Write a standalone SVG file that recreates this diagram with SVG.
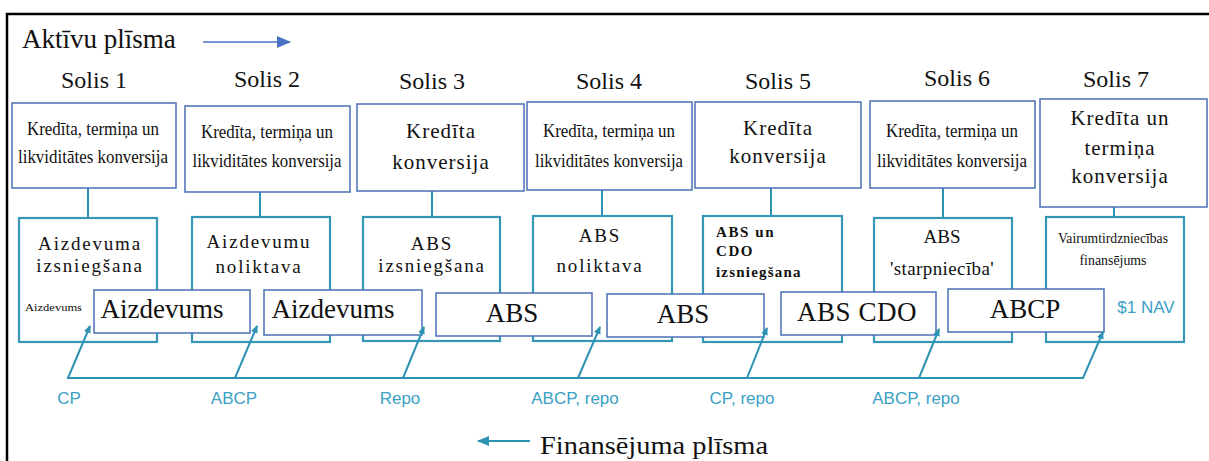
<svg xmlns="http://www.w3.org/2000/svg" width="1209" height="461" viewBox="0 0 1209 461">
<style>
.serif{font-family:"Liberation Serif","Times New Roman",serif;fill:#111;}
.sans{font-family:"Liberation Sans",Arial,sans-serif;fill:#3c9fc4;}
.bbox{fill:#fff;stroke:#4a6fb5;stroke-width:1.5;}
.tbox{fill:#fff;stroke:#3596b5;stroke-width:2.2;}
.teal{stroke:#2e93b3;stroke-width:2;fill:none;}
.step{font-size:24px;text-anchor:middle;}
.cond{font-size:19px;text-anchor:middle;}
.big{font-size:21px;text-anchor:middle;letter-spacing:1px;}
.mid{font-size:19px;text-anchor:middle;letter-spacing:1.8px;}
.inst{font-size:27px;text-anchor:middle;}
.lbl{font-size:17px;text-anchor:middle;}
</style>
<defs>
<marker id="ah" markerWidth="8" markerHeight="8" refX="7" refY="4" orient="auto" markerUnits="userSpaceOnUse"><path d="M0,0.5 L8,4 L0,7.5 z" fill="#2e93b3"/></marker>
<marker id="ahb" markerWidth="14" markerHeight="12" refX="13" refY="6" orient="auto" markerUnits="userSpaceOnUse"><path d="M0,0 L14,6 L0,12 z" fill="#4a72c4"/></marker>
<marker id="aht" markerWidth="12" markerHeight="10" refX="11" refY="5" orient="auto" markerUnits="userSpaceOnUse"><path d="M0,0 L12,5 L0,10 z" fill="#2e93b3"/></marker>
</defs>
<rect width="1209" height="461" fill="#fff"/>
<path d="M7,475 L7,14 L1215,14" fill="none" stroke="#000" stroke-width="2.5"/>

<g id="title">
<text class="serif" x="22" y="48" font-size="27">Aktīvu plīsma</text>
<line x1="203" y1="42" x2="290" y2="42" stroke="#4a72c4" stroke-width="1.5" marker-end="url(#ahb)"/>
</g>

<g id="steps" class="serif">
<text class="serif step" x="94" y="88">Solis 1</text>
<text class="serif step" x="267" y="87">Solis 2</text>
<text class="serif step" x="432" y="89">Solis 3</text>
<text class="serif step" x="609" y="89">Solis 4</text>
<text class="serif step" x="778" y="89">Solis 5</text>
<text class="serif step" x="957" y="86">Solis 6</text>
<text class="serif step" x="1116" y="87">Solis 7</text>
</g>

<g id="connectors">
<line class="teal" x1="88" y1="188" x2="88" y2="218"/>
<line class="teal" x1="260" y1="192" x2="260" y2="217"/>
<line class="teal" x1="432" y1="191" x2="432" y2="217"/>
<line class="teal" x1="602" y1="190" x2="602" y2="216"/>
<line class="teal" x1="771" y1="188" x2="771" y2="216"/>
<line class="teal" x1="943" y1="188" x2="943" y2="218"/>
<line class="teal" x1="1114" y1="207" x2="1114" y2="217"/>
</g>

<g id="top1"><rect class="bbox" x="12" y="103" width="164" height="85"/>
<text class="serif cond" x="93" y="135" textLength="132" lengthAdjust="spacingAndGlyphs">Kredīta, termiņa un</text>
<text class="serif cond" x="93" y="163" textLength="150" lengthAdjust="spacingAndGlyphs">likviditātes konversija</text></g>
<g id="top2"><rect class="bbox" x="185" y="106" width="165" height="86"/>
<text class="serif cond" x="267" y="138" textLength="132" lengthAdjust="spacingAndGlyphs">Kredīta, termiņa un</text>
<text class="serif cond" x="267" y="167" textLength="149" lengthAdjust="spacingAndGlyphs">likviditātes konversija</text></g>
<g id="top3"><rect class="bbox" x="357" y="104" width="167" height="87"/>
<text class="serif big" x="441" y="138">Kredīta</text>
<text class="serif big" x="441" y="169">konversija</text></g>
<g id="top4"><rect class="bbox" x="527" y="102" width="165" height="88"/>
<text class="serif cond" x="609" y="137" textLength="132" lengthAdjust="spacingAndGlyphs">Kredīta, termiņa un</text>
<text class="serif cond" x="609" y="167" textLength="148" lengthAdjust="spacingAndGlyphs">likviditātes konversija</text></g>
<g id="top5"><rect class="bbox" x="695" y="102" width="166" height="86"/>
<text class="serif big" x="778" y="135">Kredīta</text>
<text class="serif big" x="778" y="163">konversija</text></g>
<g id="top6"><rect class="bbox" x="870" y="101" width="165" height="87"/>
<text class="serif cond" x="952" y="137" textLength="132" lengthAdjust="spacingAndGlyphs">Kredīta, termiņa un</text>
<text class="serif cond" x="952" y="167" textLength="150" lengthAdjust="spacingAndGlyphs">likviditātes konversija</text></g>
<g id="top7"><rect class="bbox" x="1040" y="99" width="167" height="108"/>
<text class="serif big" x="1120" y="125">Kredīta un</text>
<text class="serif big" x="1120" y="155">termiņa</text>
<text class="serif big" x="1120" y="183">konversija</text></g>

<g id="bot1"><rect class="tbox" x="19" y="218" width="138" height="124"/>
<text class="serif mid" x="90" y="250">Aizdevuma</text>
<text class="serif mid" x="90" y="272">izsniegšana</text>
<text class="serif" x="25" y="311" font-size="11" textLength="57" lengthAdjust="spacingAndGlyphs">Aizdevums</text></g>
<g id="bot2"><rect class="tbox" x="192" y="217" width="138" height="125"/>
<text class="serif mid" x="259" y="248">Aizdevumu</text>
<text class="serif mid" x="259" y="273">noliktava</text></g>
<g id="bot3"><rect class="tbox" x="363" y="217" width="137" height="124"/>
<text class="serif mid" x="432" y="250">ABS</text>
<text class="serif mid" x="432" y="272">izsniegšana</text></g>
<g id="bot4"><rect class="tbox" x="533" y="216" width="139" height="125"/>
<text class="serif mid" x="600" y="242">ABS</text>
<text class="serif mid" x="600" y="272">noliktava</text></g>
<g id="bot5"><rect class="tbox" x="703" y="216" width="139" height="126"/>
<text class="serif" x="716" y="237" font-size="15" font-weight="bold" letter-spacing="1.6">ABS un</text>
<text class="serif" x="716" y="256" font-size="15" font-weight="bold" letter-spacing="1.6">CDO</text>
<text class="serif" x="716" y="277" font-size="15" font-weight="bold" letter-spacing="1.2">izsniegšana</text></g>
<g id="bot6"><rect class="tbox" x="874" y="218" width="138" height="124"/>
<text class="serif" x="942" y="243" font-size="19" text-anchor="middle">ABS</text>
<text class="serif" x="942" y="275" font-size="19" text-anchor="middle" letter-spacing="0.4">'starpniecība'</text></g>
<g id="bot7"><rect class="tbox" x="1046" y="217" width="138" height="125"/>
<text class="serif" x="1113" y="243" font-size="14" text-anchor="middle" textLength="110" lengthAdjust="spacingAndGlyphs">Vairumtirdzniecības</text>
<text class="serif" x="1113" y="265" font-size="14" text-anchor="middle" textLength="67" lengthAdjust="spacingAndGlyphs">finansējums</text>
<text class="sans" x="1146" y="313" font-size="17" text-anchor="middle">$1 NAV</text></g>

<g id="inst1"><rect class="bbox" x="94" y="290" width="156" height="43"/><text class="serif inst" x="162" y="318">Aizdevums</text></g>
<g id="inst2"><rect class="bbox" x="264" y="290" width="158" height="45"/><text class="serif inst" x="333" y="318">Aizdevums</text></g>
<g id="inst3"><rect class="bbox" x="436" y="293" width="156" height="43"/><text class="serif inst" x="512" y="322">ABS</text></g>
<g id="inst4"><rect class="bbox" x="607" y="294" width="157" height="43"/><text class="serif inst" x="683" y="323">ABS</text></g>
<g id="inst5"><rect class="bbox" x="781" y="292" width="155" height="43"/><text class="serif inst" x="857" y="321" letter-spacing="0.5">ABS CDO</text></g>
<g id="inst6"><rect class="bbox" x="948" y="289" width="156" height="43"/><text class="serif inst" x="1025" y="318">ABCP</text></g>

<g id="funding" class="teal">
<line x1="67" y1="378" x2="1084" y2="378"/>
<line x1="68" y1="378" x2="90" y2="326" marker-end="url(#ah)"/>
<line x1="235" y1="378" x2="257" y2="326" marker-end="url(#ah)"/>
<line x1="403" y1="378" x2="424" y2="327" marker-end="url(#ah)"/>
<line x1="578" y1="378" x2="600" y2="327" marker-end="url(#ah)"/>
<line x1="747" y1="378" x2="767" y2="328" marker-end="url(#ah)"/>
<line x1="919" y1="378" x2="939" y2="329" marker-end="url(#ah)"/>
<line x1="1083" y1="378" x2="1103" y2="332" marker-end="url(#ah)"/>
</g>

<g id="labels">
<text class="sans lbl" x="69" y="404">CP</text>
<text class="sans lbl" x="234" y="404">ABCP</text>
<text class="sans lbl" x="400" y="404">Repo</text>
<text class="sans lbl" x="575" y="404">ABCP, repo</text>
<text class="sans lbl" x="742" y="404">CP, repo</text>
<text class="sans lbl" x="916" y="404">ABCP, repo</text>
</g>

<g id="footer">
<line x1="530" y1="441" x2="478" y2="441" stroke="#2e93b3" stroke-width="2" marker-end="url(#aht)"/>
<text class="serif" x="540" y="454" font-size="26" textLength="228" lengthAdjust="spacingAndGlyphs">Finansējuma plīsma</text>
</g>
</svg>
